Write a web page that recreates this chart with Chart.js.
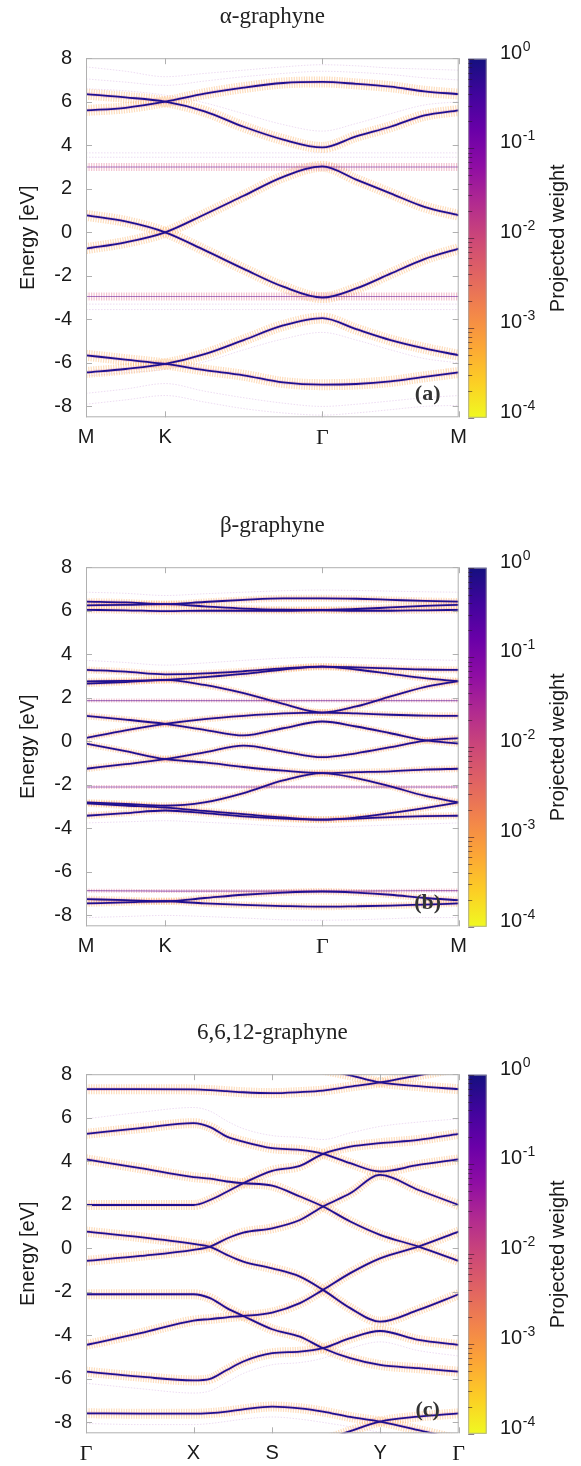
<!DOCTYPE html>
<html>
<head>
<meta charset="utf-8">
<script src="https://cdn.jsdelivr.net/npm/chart.js@4.4.1/dist/chart.umd.min.js"></script>
<style>
  html, body { margin: 0; padding: 0; background: #fff; overflow: hidden; }
  .panel { position: absolute; left: 0; width: 581px; height: 450px; }
</style>
</head>
<body>
<div class="panel" style="top:0px"><canvas id="chartA" width="581" height="450"></canvas></div>
<div class="panel" style="top:509px"><canvas id="chartB" width="581" height="450"></canvas></div>
<div class="panel" style="top:1016px"><canvas id="chartC" width="581" height="450"></canvas></div>
<script>
// k-path positions (fraction of total path length) and high-symmetry labels
const kHex = [0, 0.106, 0.2126, 0.318, 0.423, 0.529, 0.634, 0.725, 0.817, 0.908, 1];
const kHexTicks = [0, 0.2126, 0.634, 1];
const kHexLabels = ["M", "K", "Γ", "M"];
const kRect = [0, 0.146, 0.2885, 0.333, 0.378, 0.422, 0.4995, 0.574, 0.636, 0.709, 0.789, 0.892, 1];
const kRectTicks = [0, 0.2885, 0.4995, 0.789, 1];
const kRectLabels = ["Γ", "X", "S", "Y", "Γ"];
const energyTicks = [-8, -6, -4, -2, 0, 2, 4, 6, 8];
const cbExponents = ["0", "-1", "-2", "-3", "-4"];

// alpha-graphyne (eV)
const a1 = [6.35, 6.2, 6.0, 5.56, 4.85, 4.26, 3.9, 4.41, 4.85, 5.37, 5.6];
const a2 = [5.6, 5.72, 6.0, 6.37, 6.65, 6.86, 6.91, 6.82, 6.69, 6.48, 6.35];
const a3 = [0.78, 0.5, 0.0, -0.82, -1.68, -2.5, -3.0, -2.58, -1.9, -1.23, -0.75];
const a4 = [-0.75, -0.46, 0.0, 0.82, 1.68, 2.55, 3.03, 2.42, 1.79, 1.17, 0.78];
const a5 = [-5.65, -5.85, -6.05, -6.33, -6.57, -6.9, -7.0, -6.97, -6.85, -6.64, -6.44];
const a6 = [-6.44, -6.28, -6.05, -5.6, -4.95, -4.28, -3.94, -4.45, -4.95, -5.33, -5.65];
const aFlat1 = [3.0, 3.0, 3.0, 3.0, 3.0, 3.0, 3.0, 3.0, 3.0, 3.0, 3.0];
const aFlat2 = [-2.95, -2.95, -2.95, -2.95, -2.95, -2.95, -2.95, -2.95, -2.95, -2.95, -2.95];
const aGhost1 = [6.6, 6.5, 6.3, 5.95, 5.45, 4.95, 4.65, 5.0, 5.45, 5.85, 6.0];
const aGhost2 = [7.6, 7.4, 7.15, 7.3, 7.45, 7.6, 7.7, 7.65, 7.55, 7.5, 7.45];
const aGhost3 = [7.05, 6.9, 6.75, 6.95, 7.15, 7.3, 7.4, 7.35, 7.25, 7.1, 7.0];
const aGhost4 = [3.45, 3.45, 3.45, 3.45, 3.45, 3.45, 3.45, 3.45, 3.45, 3.45, 3.45];
const aGhost5 = [3.65, 3.65, 3.65, 3.65, 3.65, 3.65, 3.65, 3.65, 3.65, 3.65, 3.65];
const aGhost6 = [-3.3, -3.3, -3.3, -3.3, -3.3, -3.3, -3.3, -3.3, -3.3, -3.3, -3.3];
const aGhost7 = [-3.55, -3.55, -3.55, -3.55, -3.55, -3.55, -3.55, -3.55, -3.55, -3.55, -3.55];
const aGhost8 = [-6.6, -6.45, -6.3, -5.95, -5.4, -4.9, -4.6, -4.95, -5.4, -5.8, -6.0];
const aGhost9 = [-7.4, -7.2, -6.95, -7.3, -7.6, -7.85, -8.0, -7.9, -7.75, -7.6, -7.5];
const aGhost10 = [-7.9, -7.7, -7.5, -7.8, -8.1, -8.3, -8.4, -8.3, -8.15, -8.0, -7.95];

// beta-graphyne (eV)
const bT1 = [6.42, 6.38, 6.3, 6.4, 6.5, 6.57, 6.57, 6.55, 6.5, 6.45, 6.42];
const bT2 = [6.25, 6.27, 6.3, 6.2, 6.1, 6.05, 6.04, 6.08, 6.15, 6.22, 6.27];
const bT3 = [6.04, 6.02, 5.98, 6.0, 6.0, 6.0, 6.02, 6.0, 6.0, 6.02, 6.04];
const bM1 = [3.28, 3.2, 3.08, 3.12, 3.22, 3.35, 3.43, 3.4, 3.35, 3.3, 3.28];
const bM2 = [2.75, 2.78, 2.82, 2.95, 3.1, 3.3, 3.43, 3.3, 3.1, 2.9, 2.75];
const bM3 = [2.65, 2.72, 2.82, 2.59, 2.21, 1.72, 1.32, 1.6, 2.06, 2.49, 2.77];
const bM4 = [0.15, 0.5, 0.8, 1.02, 1.17, 1.28, 1.32, 1.28, 1.22, 1.18, 1.17];
const bM5 = [1.17, 1.0, 0.8, 0.53, 0.27, 0.6, 0.91, 0.68, 0.37, 0.05, -0.1];
const bM6 = [-1.26, -1.05, -0.82, -0.51, -0.2, -0.47, -0.73, -0.55, -0.27, 0.02, 0.15];
const bM7 = [-0.11, -0.45, -0.82, -0.97, -1.18, -1.35, -1.46, -1.42, -1.38, -1.3, -1.26];
const bM8 = [-2.81, -2.88, -2.96, -2.81, -2.38, -1.8, -1.46, -1.69, -2.07, -2.5, -2.81];
const bM9 = [-2.85, -2.95, -3.05, -3.2, -3.35, -3.5, -3.6, -3.5, -3.3, -3.07, -2.81];
const bM10 = [-3.42, -3.3, -3.18, -3.3, -3.45, -3.55, -3.6, -3.55, -3.48, -3.44, -3.42];
const bL1 = [-7.25, -7.3, -7.35, -7.2, -7.05, -6.95, -6.9, -6.95, -7.05, -7.2, -7.3];
const bL2 = [-7.45, -7.4, -7.35, -7.45, -7.52, -7.57, -7.6, -7.58, -7.55, -7.5, -7.45];
const bFlat1 = [1.87, 1.87, 1.87, 1.87, 1.87, 1.87, 1.87, 1.87, 1.87, 1.87, 1.87];
const bFlat2 = [-2.1, -2.1, -2.1, -2.1, -2.1, -2.1, -2.1, -2.1, -2.1, -2.1, -2.1];
const bFlat3 = [-6.86, -6.87, -6.88, -6.88, -6.88, -6.88, -6.88, -6.88, -6.87, -6.86, -6.86];
const bGhost1 = [6.85, 6.8, 6.7, 6.78, 6.85, 6.92, 6.95, 6.93, 6.9, 6.87, 6.85];
const bGhost2 = [3.72, 3.62, 3.5, 3.6, 3.72, 3.82, 3.87, 3.84, 3.8, 3.75, 3.72];
const bGhost3 = [-3.75, -3.7, -3.65, -3.72, -3.8, -3.9, -3.95, -3.9, -3.85, -3.8, -3.75];
const bGhost4 = [-8.1, -8.05, -8.0, -8.05, -8.12, -8.2, -8.22, -8.2, -8.15, -8.1, -8.1];

// 6,6,12-graphyne (eV)
const c1 = [7.31, 7.31, 7.3, 7.27, 7.22, 7.17, 7.13, 7.18, 7.25, 7.43, 7.62, 7.95, 8.3];
const c1b = [null, null, null, null, null, null, 8.7, 8.45, 8.2, 7.95, 7.62, 7.45, 7.31];
const c2 = [5.26, 5.52, 5.75, 5.57, 5.13, 4.9, 4.6, 4.52, 4.34, 3.91, 3.53, 3.83, 4.09];
const c3 = [4.09, 3.68, 3.27, 3.2, 3.07, 2.99, 2.88, 2.38, 1.92, 1.23, 0.62, 0.08, -0.58];
const c4 = [1.99, 1.99, 1.99, 2.22, 2.6, 2.99, 3.56, 3.79, 4.34, 4.67, 4.83, 4.98, 5.26];
const c5 = [0.77, 0.51, 0.2, 0.07, -0.3, -0.61, -0.92, -1.3, -1.91, -2.75, -3.37, -2.83, -2.11];
const c6 = [-0.58, -0.35, -0.07, 0.08, 0.45, 0.72, 0.92, 1.3, 1.92, 2.53, 3.37, 2.68, 1.99];
const c7 = [-2.11, -2.11, -2.11, -2.29, -2.75, -3.11, -3.72, -4.06, -4.59, -5.05, -5.36, -5.51, -5.67];
const c8 = [-4.44, -3.9, -3.32, -3.25, -3.17, -3.11, -2.95, -2.52, -1.91, -1.14, -0.46, 0.08, 0.77];
const c9 = [-5.67, -5.9, -6.07, -6.0, -5.59, -5.2, -4.82, -4.75, -4.59, -4.13, -3.8, -4.21, -4.44];
const c10 = [-7.58, -7.6, -7.6, -7.57, -7.5, -7.4, -7.27, -7.35, -7.5, -7.75, -7.96, -8.35, -8.8];
const c11 = [null, null, null, null, null, null, null, null, -8.85, -8.4, -7.96, -7.73, -7.58];
const cGhost1 = [5.95, 6.25, 6.47, 6.3, 5.85, 5.5, 5.18, 5.1, 5.0, 5.3, 5.6, 5.8, 5.95];
const cGhost2 = [-6.2, -6.45, -6.65, -6.55, -6.15, -5.75, -5.35, -5.25, -5.05, -4.6, -4.3, -4.7, -4.95];
const cGhost3 = [-8.05, -8.1, -8.1, -8.05, -7.95, -7.85, -7.75, -7.85, -8.0, -8.2, -8.45, -8.7, -9.0];

const SANS = '"Liberation Sans", Arial, sans-serif';
const SERIF = '"Liberation Serif", "Times New Roman", serif';

function bandDatasets(k, bands, flats, ghosts, glowWidth, flatWidth) {
  const pts = (vals) => vals.map((y, i) => ({ x: k[i], y: y }));
  const sets = [];
  // first dataset is drawn on top, so cores go first
  bands.forEach((b) => sets.push({ data: pts(b), borderColor: "#1f1090", borderWidth: 1.8 }));
  flats.forEach((b) => sets.push({ data: pts(b), borderColor: "rgba(100,20,150,0.55)", borderWidth: 1.2 }));
  bands.forEach((b) => sets.push({ data: pts(b), borderColor: "rgba(200,70,140,0.22)", borderWidth: 3.5 }));
  flats.forEach((b) =>
    sets.push({ data: pts(b), borderColor: "rgba(225,110,140,0.4)", borderWidth: flatWidth, borderDash: [1.2, 1.3] })
  );
  bands.forEach((b) =>
    sets.push({ data: pts(b), borderColor: "rgba(250,160,70,0.36)", borderWidth: glowWidth, borderDash: [1.2, 1.3] })
  );
  ghosts.forEach((b) =>
    sets.push({ data: pts(b), borderColor: "rgba(190,130,210,0.28)", borderWidth: 1, borderDash: [1.5, 1.5] })
  );
  return sets;
}

// frame with inward ticks + panel letter
const framePlugin = {
  id: "frame",
  afterDraw(chart, args, opts) {
    const { ctx, chartArea: a, scales } = chart;
    ctx.save();
    ctx.strokeStyle = "#b0b0b0";
    ctx.lineWidth = 1;
    ctx.strokeRect(a.left + 0.5, a.top + 0.5, a.right - a.left - 1, a.bottom - a.top - 1);
    ctx.beginPath();
    energyTicks.forEach((v) => {
      const y = Math.round(scales.y.getPixelForValue(v)) + 0.5;
      ctx.moveTo(a.left, y); ctx.lineTo(a.left + 6, y);
      ctx.moveTo(a.right, y); ctx.lineTo(a.right - 6, y);
    });
    opts.kTicks.forEach((v) => {
      const x = Math.round(scales.x.getPixelForValue(v)) + 0.5;
      ctx.moveTo(x, a.bottom); ctx.lineTo(x, a.bottom - 6);
      ctx.moveTo(x, a.top); ctx.lineTo(x, a.top + 6);
    });
    ctx.stroke();
    ctx.fillStyle = "#333";
    ctx.font = "bold 22px " + SERIF;
    ctx.textAlign = "center";
    ctx.textBaseline = "middle";
    ctx.fillText(opts.label, a.right - 31, a.bottom - 23);
    ctx.restore();
  },
};

// plasma-like colour bar for the projected weight
const colorbarPlugin = {
  id: "colorbar",
  afterDraw(chart) {
    const { ctx, chartArea: a } = chart;
    const x0 = a.right + 9.5, w = 18.5;
    const top = a.top + 0.5, bottom = a.bottom + 0.5, h = bottom - top;
    ctx.save();
    const g = ctx.createLinearGradient(0, top, 0, bottom);
    g.addColorStop(0.0, "#14107f");
    g.addColorStop(0.1, "#41049d");
    g.addColorStop(0.2, "#6a00a8");
    g.addColorStop(0.3, "#8f0da4");
    g.addColorStop(0.4, "#b12a90");
    g.addColorStop(0.5, "#cc4778");
    g.addColorStop(0.6, "#e16462");
    g.addColorStop(0.7, "#f2844b");
    g.addColorStop(0.8, "#fca636");
    g.addColorStop(0.9, "#fcce25");
    g.addColorStop(1.0, "#f0f921");
    ctx.fillStyle = g;
    ctx.fillRect(x0, top, w, h);
    ctx.strokeStyle = "rgba(160,160,160,0.8)";
    ctx.lineWidth = 1;
    ctx.strokeRect(x0 + 0.5, top + 0.5, w - 1, h - 1);
    // log ticks on the left edge
    ctx.strokeStyle = "rgba(40,20,40,0.55)";
    ctx.beginPath();
    for (let d = 0; d < 4; d++) {
      for (let m = 2; m <= 9; m++) {
        const y = Math.round(top + ((d + 1 - Math.log10(m)) / 4) * h) + 0.5;
        ctx.moveTo(x0, y); ctx.lineTo(x0 + 4, y);
      }
    }
    cbExponents.forEach((e, i) => {
      const y = Math.round(top + (i / 4) * h) + 0.5;
      ctx.moveTo(x0, y); ctx.lineTo(x0 + 6, y);
    });
    ctx.stroke();
    // labels 10^n
    ctx.fillStyle = "#1a1a1a";
    ctx.textAlign = "left";
    ctx.textBaseline = "alphabetic";
    cbExponents.forEach((e, i) => {
      const y = top + (i / 4) * h;
      ctx.font = "20px " + SANS;
      ctx.fillText("10", 500, y);
      const tw = ctx.measureText("10").width;
      ctx.font = "14px " + SANS;
      ctx.fillText(e, 500 + tw + 0.5, y - 8);
    });
    ctx.font = "20px " + SANS;
    ctx.textAlign = "center";
    ctx.textBaseline = "middle";
    ctx.translate(558, top + h / 2);
    ctx.rotate(-Math.PI / 2);
    ctx.fillText("Projected weight", 0, 0);
    ctx.restore();
  },
};

function makeChart(id, title, label, k, kTicks, kLabels, datasets) {
  return new Chart(document.getElementById(id), {
    type: "line",
    data: { datasets: datasets },
    options: {
      responsive: false,
      animation: false,
      layout: { padding: { left: 0, right: 122.3, top: 0, bottom: 0 } },
      elements: {
        point: { radius: 0 },
        line: { fill: false, cubicInterpolationMode: "monotone", borderCapStyle: "butt" },
      },
      plugins: {
        legend: { display: false },
        tooltip: { enabled: false },
        title: {
          display: true,
          text: title,
          fullSize: false,
          color: "#222",
          font: { family: SERIF, size: 23, weight: "normal" },
          padding: { top: 3, bottom: 27.6 },
        },
        frame: { label: label, kTicks: kTicks },
      },
      scales: {
        x: {
          type: "linear",
          min: 0,
          max: 1,
          afterBuildTicks: (scale) => {
            scale.ticks = kTicks.map((v) => ({ value: v }));
          },
          afterFit: (scale) => {
            scale.height = 32.7;
          },
          grid: { display: false, drawTicks: false },
          border: { display: false },
          ticks: {
            autoSkip: false,
            maxRotation: 0,
            padding: 8,
            color: "#1a1a1a",
            callback: (value, index) => kLabels[index],
            font: (ctx) =>
              ctx.tick && ctx.tick.label === "Γ"
                ? { family: SERIF, size: 22 }
                : { family: SANS, size: 20 },
          },
        },
        y: {
          min: -8.5,
          max: 8,
          afterBuildTicks: (scale) => {
            scale.ticks = energyTicks.map((v) => ({ value: v }));
          },
          afterFit: (scale) => {
            scale.width = 86;
          },
          grid: { display: false, drawTicks: false },
          border: { display: false },
          ticks: { padding: 14, color: "#1a1a1a", font: { family: SANS, size: 20 } },
          title: {
            display: true,
            text: "Energy [eV]",
            color: "#1a1a1a",
            font: { family: SANS, size: 20 },
            padding: { top: 16, bottom: 0 },
          },
        },
      },
    },
    plugins: [framePlugin, colorbarPlugin],
  });
}

makeChart(
  "chartA", "α-graphyne", "(a)", kHex, kHexTicks, kHexLabels,
  bandDatasets(
    kHex,
    [a1, a2, a3, a4, a5, a6],
    [aFlat1, aFlat2],
    [aGhost1, aGhost2, aGhost3, aGhost4, aGhost5, aGhost6, aGhost7, aGhost8, aGhost9, aGhost10],
    11,
    8
  )
);

makeChart(
  "chartB", "β-graphyne", "(b)", kHex, kHexTicks, kHexLabels,
  bandDatasets(
    kHex,
    [bT1, bT2, bT3, bM1, bM2, bM3, bM4, bM5, bM6, bM7, bM8, bM9, bM10, bL1, bL2],
    [bFlat1, bFlat2, bFlat3],
    [bGhost1, bGhost2, bGhost3, bGhost4],
    7,
    4
  )
);

makeChart(
  "chartC", "6,6,12-graphyne", "(c)", kRect, kRectTicks, kRectLabels,
  bandDatasets(
    kRect,
    [c1, c1b, c2, c3, c4, c5, c6, c7, c8, c9, c10, c11],
    [],
    [cGhost1, cGhost2, cGhost3],
    10,
    4
  )
);
</script>
</body>
</html>
